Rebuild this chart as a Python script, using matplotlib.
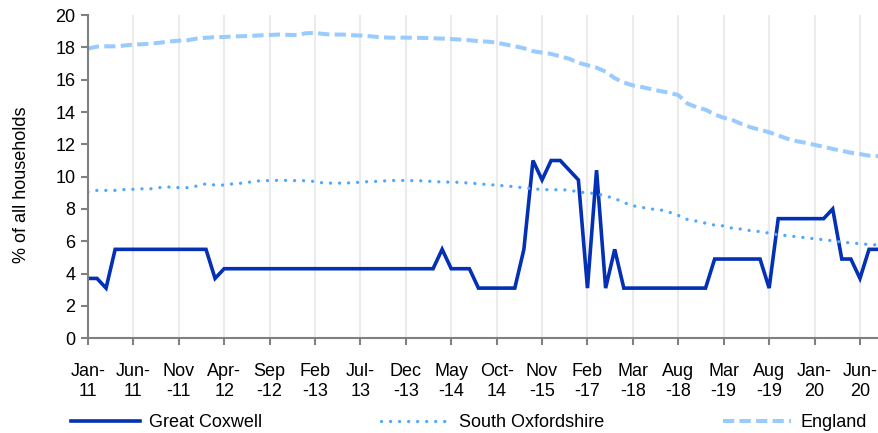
import numpy as np
import matplotlib
matplotlib.use("Agg")
import matplotlib.pyplot as plt

plt.rcParams['font.family'] = ['Liberation Sans', 'DejaVu Sans']

# tick labels, one every 5 categories (dates as shown, wrapped like the original)
tick_labels = ["Jan-\n11", "Jun-\n11", "Nov\n-11", "Apr-\n12", "Sep\n-12", "Feb\n-13",
               "Jul-\n13", "Dec\n-13", "May\n-14", "Oct-\n14", "Nov\n-15", "Feb\n-17",
               "Mar\n-18", "Aug\n-18", "Mar\n-19", "Aug\n-19", "Jan-\n20", "Jun-\n20"]

great_coxwell = [
    3.7, 3.7, 3.1, 5.5, 5.5, 5.5, 5.5, 5.5, 5.5, 5.5,
    5.5, 5.5, 5.5, 5.5, 3.7, 4.3, 4.3, 4.3, 4.3, 4.3,
    4.3, 4.3, 4.3, 4.3, 4.3, 4.3, 4.3, 4.3, 4.3, 4.3,
    4.3, 4.3, 4.3, 4.3, 4.3, 4.3, 4.3, 4.3, 4.3, 5.5,
    4.3, 4.3, 4.3, 3.1, 3.1, 3.1, 3.1, 3.1, 5.5, 11.0,
    9.8, 11.0, 11.0, 10.4, 9.8, 3.1, 10.4, 3.1, 5.5, 3.1,
    3.1, 3.1, 3.1, 3.1, 3.1, 3.1, 3.1, 3.1, 3.1, 4.9,
    4.9, 4.9, 4.9, 4.9, 4.9, 3.1, 7.4, 7.4, 7.4, 7.4,
    7.4, 7.4, 8.0, 4.9, 4.9, 3.7, 5.5, 5.5,
]

south_oxfordshire = [
    9.05, 9.15, 9.15, 9.15, 9.2, 9.22, 9.25, 9.25, 9.33, 9.36,
    9.32, 9.32, 9.42, 9.56, 9.48, 9.48, 9.56, 9.6, 9.68, 9.75,
    9.76, 9.77, 9.77, 9.75, 9.75, 9.7, 9.6, 9.6, 9.6, 9.62,
    9.66, 9.7, 9.71, 9.75, 9.77, 9.76, 9.75, 9.74, 9.7, 9.67,
    9.66, 9.65, 9.6, 9.57, 9.5, 9.48, 9.42, 9.38, 9.3, 9.25,
    9.2, 9.19, 9.19, 9.17, 9.05, 9.0, 8.95, 8.8, 8.65, 8.4,
    8.2, 8.1, 8.0, 7.95, 7.8, 7.6, 7.35, 7.25, 7.12, 7.0,
    6.95, 6.8, 6.75, 6.65, 6.6, 6.5, 6.4, 6.35, 6.28, 6.22,
    6.15, 6.1, 6.03, 5.95, 5.9, 5.85, 5.8, 5.77,
]

england = [
    17.93, 18.05, 18.07, 18.07, 18.12, 18.18, 18.2, 18.24, 18.3, 18.37,
    18.42, 18.45, 18.55, 18.6, 18.64, 18.65, 18.68, 18.7, 18.72, 18.75,
    18.77, 18.8, 18.78, 18.77, 18.88, 18.9, 18.83, 18.8, 18.8, 18.76,
    18.74, 18.7, 18.64, 18.61, 18.6, 18.61, 18.6, 18.59, 18.57, 18.55,
    18.52, 18.49, 18.45, 18.39, 18.36, 18.3, 18.18, 18.08, 17.95, 17.77,
    17.68, 17.6, 17.45, 17.3, 17.05, 16.9, 16.75, 16.5, 16.1, 15.83,
    15.65, 15.55, 15.42, 15.3, 15.2, 15.05, 14.53, 14.3, 14.15, 13.85,
    13.65, 13.5, 13.25, 13.05, 12.9, 12.75, 12.55, 12.35, 12.2, 12.1,
    11.97, 11.85, 11.72, 11.6, 11.48, 11.4, 11.3, 11.27,
]

x = np.arange(len(great_coxwell))

fig = plt.figure(figsize=(8.79, 4.33), dpi=100)
ax = fig.add_axes([0.100, 0.219, 0.899, 0.746])

ax.plot(x, great_coxwell, color='#0330B4', lw=2.6, label="Great Coxwell",
        solid_joinstyle='miter')
ax.plot(x, south_oxfordshire, color='#4FA8FF', lw=2.4, linestyle=(0, (0.01, 2.7)),
        dash_capstyle='round', label="South Oxfordshire")
ax.plot(x, england, color='#9ACBFF', lw=2.9, linestyle=(0, (2.8, 1.3)),
        label="England")

ax.set_xlim(0, len(x) - 1)
ax.set_ylim(0, 20)
ax.set_yticks(np.arange(0, 21, 2))
ax.set_xticks(x[::5])
ax.set_xticklabels(tick_labels, linespacing=1.25)
ax.tick_params(axis='both', labelsize=13, colors='#808080', labelcolor='black')
ax.tick_params(axis='x', length=5, width=1.5, pad=13)
ax.tick_params(axis='y', length=5, width=1.5, pad=4)

ax.grid(axis='x', color='#EBEBEB', lw=1.5)
ax.set_axisbelow(True)
for s in ['top', 'right']:
    ax.spines[s].set_visible(False)
for s in ['left', 'bottom']:
    ax.spines[s].set_color('#808080')
    ax.spines[s].set_linewidth(1.5)

ax.set_ylabel("% of all households", fontsize=13)
ax.yaxis.set_label_coords(-0.073, 0.474)

fig.legend(loc='lower left', ncol=3, mode='expand', frameon=False, fontsize=13,
           bbox_to_anchor=(64 / 879, -0.012, 810 / 879, 0.065),
           handlelength=3.8, handletextpad=0.5, borderaxespad=0.0)

fig.savefig("out.png", dpi=100)
